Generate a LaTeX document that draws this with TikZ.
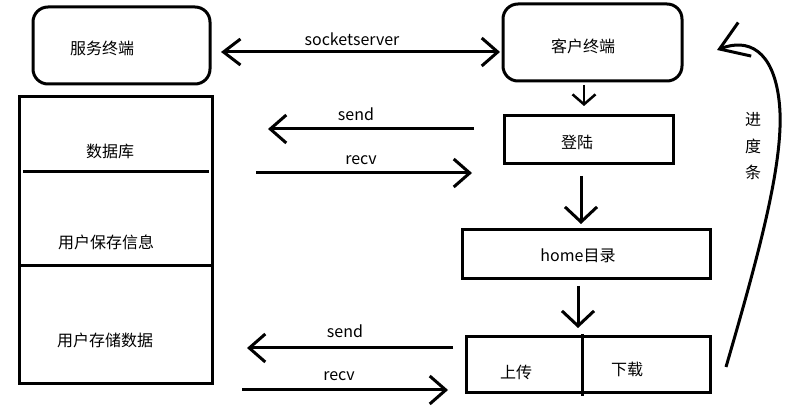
\documentclass[tikz,border=0pt]{standalone}
\usepackage{fontspec}
\setmainfont{Noto Sans CJK SC}
\usetikzlibrary{arrows.meta}
\begin{document}
\begin{tikzpicture}[x=1pt,y=-1pt,
  box/.style={draw,line width=3pt,inner sep=0pt,anchor=center},
  term/.style={box,rounded corners=15pt},
  txt/.style={inner sep=0pt,font=\fontsize{16pt}{18pt}\selectfont,anchor=center},
  conn/.style={line width=3pt,-{Straight Barb[length=16pt,width=28pt]}},
  both/.style={line width=3pt,{Straight Barb[length=17pt,width=26pt]}-{Straight Barb[length=16pt,width=28pt]}},
  down/.style={line width=3pt,-{Straight Barb[length=15pt,width=32pt]}},
  smalldown/.style={line width=2.5pt,-{Straight Barb[length=10pt,width=23pt]}}]
\useasboundingbox (0,0) rectangle (801,411);
% boxes
\node[term,minimum width=177pt,minimum height=77pt] (server) at (121.5,45.5) {};
\node[term,minimum width=179pt,minimum height=77pt] (client) at (592.5,42.5) {};
\node[box,minimum width=169pt,minimum height=48pt] (login) at (588.5,140) {};
\node[box,minimum width=248pt,minimum height=49pt] (home) at (586,254.5) {};
\node[box,minimum width=244pt,minimum height=56pt] (ud) at (588,365) {};
\node[box,minimum width=193pt,minimum height=287pt] (db) at (115.5,240.5) {};
% dividers
\coordinate (d1a) at (23,172); \coordinate (d1b) at (209,172);
\coordinate (d2a) at (18,266); \coordinate (d2b) at (211,266);
\coordinate (uda) at (582,334); \coordinate (udb) at (582,396);
\draw[line width=3pt] (d1a) -- (d1b);
\draw[line width=3pt] (d2a) -- (d2b);
\draw[line width=3pt] (uda) -- (udb);
% texts
\node[txt] (tserver) at (102,48) {服务终端};
\node[txt] (tclient) at (583,46) {客户终端};
\node[txt] (tlogin) at (577,142) {登陆};
\node[txt] (thome) at (578,256) {home目录};
\node[txt] (tup) at (516,372) {上传};
\node[txt] (tdown) at (627,369) {下载};
\node[txt] (tdb) at (110,151) {数据库};
\node[txt] (tsave) at (106,242) {用户保存信息};
\node[txt] (tstore) at (105,340) {用户存储数据};
\node[txt] (tsock) at (352,39) {socketserver};
\node[txt] (ts1) at (356,114) {send};
\node[txt] (tr1) at (361,160) {recv};
\node[txt] (ts2) at (345,331) {send};
\node[txt] (tr2) at (339,376) {recv};
\node[txt] (tj) at (753,119) {进};
\node[txt] (td) at (753,146) {度};
\node[txt] (tt) at (753,172) {条};
% connector end points
\coordinate (sockL) at (221,52); \coordinate (sockR) at (500,52);
\coordinate (s1a) at (474,129); \coordinate (s1b) at (268,129);
\coordinate (r1a) at (256,173); \coordinate (r1b) at (472,173);
\coordinate (s2a) at (453,348); \coordinate (s2b) at (247,348);
\coordinate (r2a) at (242,390); \coordinate (r2b) at (448,390);
\coordinate (a1a) at (584,85); \coordinate (a1b) at (584,106);
\coordinate (a2a) at (581,176); \coordinate (a2b) at (581,224);
\coordinate (a3a) at (578,286); \coordinate (a3b) at (578,328);
\coordinate (ca) at (726,367); \coordinate (cm) at (779,100); \coordinate (cb) at (717,50);
% connectors
\draw[both] (sockL) -- (sockR);
\draw[conn] (s1a) -- (s1b);
\draw[conn] (r1a) -- (r1b);
\draw[conn] (s2a) -- (s2b);
\draw[conn] (r2a) -- (r2b);
\draw[smalldown] (a1a) -- (a1b);
\draw[down] (a2a) -- (a2b);
\draw[down] (a3a) -- (a3b);
\draw[line width=3pt,-{Straight Barb[length=27pt,width=36pt]}] (ca) .. controls (760,250) and (786,155) .. (cm) .. controls (773,50) and (748,38) .. (cb);
\end{tikzpicture}
\end{document}
